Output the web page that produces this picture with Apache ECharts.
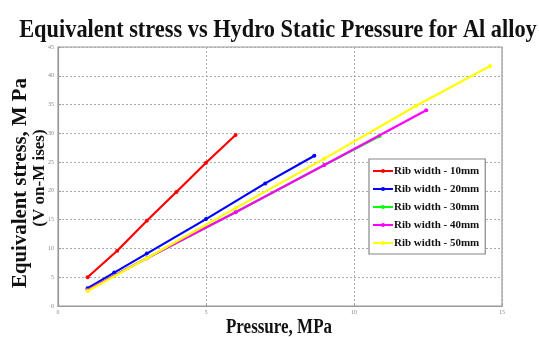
<!DOCTYPE html>
<html><head><meta charset="utf-8">
<script src="https://cdn.jsdelivr.net/npm/echarts@6/dist/echarts.min.js"></script>
<style>html,body{margin:0;padding:0;background:#fff}#c{width:539px;height:337px}</style>
</head><body><div id="c"></div>
<script>
const seriesNames = ['Rib width - 10mm','Rib width - 20mm','Rib width - 30mm','Rib width - 40mm','Rib width - 50mm'];
const seriesColors = ['#ff0000','#0000ff','#00ff00','#ff00ff','#ffff00'];
const x10 = [1, 2, 3, 4, 5, 6];
const y10 = [5.0, 9.6, 14.8, 19.8, 24.9, 29.7];
const x20 = [1, 1.9, 3, 5, 7, 8.66];
const y20 = [3.1, 5.8, 9.1, 15.1, 21.3, 26.1];
const x30 = [1, 3, 6, 9, 10.86];
const y30 = [2.8, 8.3, 16.3, 24.5, 29.5];
const x40 = [1, 3, 6, 9, 12.44];
const y40 = [2.8, 8.3, 16.3, 24.5, 34.0];
const x50 = [1, 3, 6, 9, 12.1, 14.6];
const y50 = [2.6, 8.3, 17.0, 25.6, 34.8, 41.7];
const xTicks = [0, 5, 10, 15];
const yTicks = [0, 5, 10, 15, 20, 25, 30, 35, 40, 45];

const xs = [x10, x20, x30, x40, x50];
const ys = [y10, y20, y30, y40, y50];

const chart = echarts.init(document.getElementById('c'), null, {renderer: 'canvas'});
const serif = '"Liberation Serif", "DejaVu Serif", serif';
const tickStyle = {color: '#888', fontSize: 6, fontFamily: serif};
chart.setOption({
  animation: false,
  backgroundColor: '#fff',
  grid: {left: 58, right: 37, top: 47, bottom: 31, show: true, borderColor: '#999', borderWidth: 1.2},
  xAxis: {
    type: 'value', min: xTicks[0], max: xTicks[xTicks.length-1], interval: 5,
    axisLine: {show: true, lineStyle: {color: '#999', width: 1.2}},
    axisTick: {show: true, inside: true, length: 3, lineStyle: {color: '#999'}},
    axisLabel: Object.assign({margin: 3}, tickStyle),
    splitLine: {show: true, lineStyle: {color: '#aaa', type: [2, 2], width: 1}}
  },
  yAxis: {
    type: 'value', min: yTicks[0], max: yTicks[yTicks.length-1], interval: 5,
    axisLine: {show: true, lineStyle: {color: '#999', width: 1.2}},
    axisTick: {show: true, inside: true, length: 3, lineStyle: {color: '#999'}},
    axisLabel: Object.assign({margin: 4}, tickStyle),
    splitLine: {show: true, lineStyle: {color: '#aaa', type: [2, 2], width: 1}}
  },
  legend: {
    orient: 'vertical', left: 369, top: 159, itemGap: 6, itemWidth: 20, itemHeight: 5,
    padding: [6, 6, 5, 3],
    backgroundColor: '#fff', borderColor: '#888', borderWidth: 1.2,
    textStyle: {fontFamily: serif, fontWeight: 'bold', fontSize: 11, lineHeight: 12, height: 12, color: '#111', padding: [0, 0, 0, -4]},
    data: seriesNames
  },
  graphic: [
    {type: 'text', x: 278, y: 30, style: {text: 'Equivalent stress vs Hydro Static Pressure for Al alloy', font: 'bold 26px ' + serif, fill: '#111', align: 'center', verticalAlign: 'middle'}, scaleX: 0.86},
    {type: 'text', x: 279, y: 328, style: {text: 'Pressure, MPa', font: 'bold 20px ' + serif, fill: '#111', align: 'center', verticalAlign: 'middle'}, scaleX: 0.85},
    {type: 'text', x: 21, y: 183, rotation: Math.PI/2, style: {text: 'Equivalent stress, M Pa', font: 'bold 21px ' + serif, fill: '#111', align: 'center', verticalAlign: 'middle'}, scaleX: 0.99},
    {type: 'text', x: 40, y: 178, rotation: Math.PI/2, style: {text: '(V on-M ises)', font: 'bold 17px ' + serif, fill: '#111', align: 'center', verticalAlign: 'middle'}, scaleX: 1.0}
  ],
  series: seriesNames.map((n, i) => ({
    name: n, type: 'line',
    data: xs[i].map((x, j) => [x, ys[i][j]]),
    symbol: 'circle', symbolSize: 4, showSymbol: true,
    lineStyle: {color: seriesColors[i], width: 2.2},
    itemStyle: {color: seriesColors[i]},
    z: 2 + i
  }))
});
</script></body></html>
